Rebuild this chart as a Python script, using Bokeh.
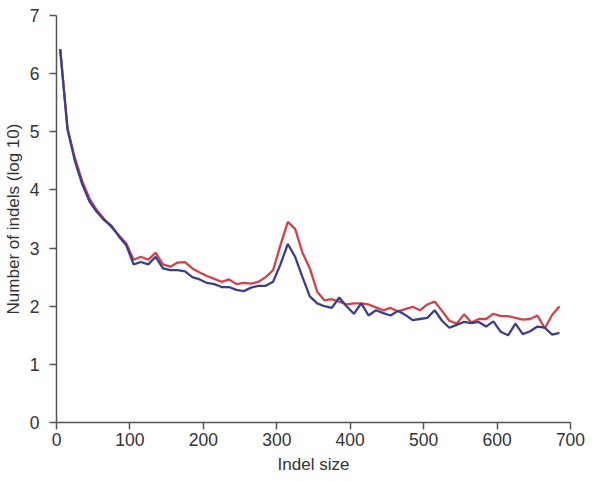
from bokeh.plotting import figure
from bokeh.models import Range1d, FixedTicker
from bokeh.embed import file_html
from bokeh.resources import INLINE

indel_size = [5, 15, 25, 35, 45, 55, 65, 75, 85, 95,
              105, 115, 125, 135, 145, 155, 165, 175, 185, 195,
              205, 215, 225, 235, 245, 255, 265, 275, 285, 295,
              305, 315, 325, 335, 345, 355, 365, 375, 385, 395,
              405, 415, 425, 435, 445, 455, 465, 475, 485, 495,
              505, 515, 525, 535, 545, 555, 565, 575, 585, 595,
              605, 615, 625, 635, 645, 655, 665, 675, 685]

red_series = [6.42, 5.06, 4.55, 4.15, 3.85, 3.65, 3.50, 3.36, 3.22, 3.08,
              2.80, 2.85, 2.80, 2.92, 2.72, 2.68, 2.75, 2.76, 2.65, 2.58,
              2.52, 2.47, 2.42, 2.46, 2.38, 2.40, 2.39, 2.42, 2.50, 2.62,
              3.05, 3.45, 3.33, 2.92, 2.65, 2.25, 2.10, 2.12, 2.08, 2.03,
              2.05, 2.05, 2.03, 1.98, 1.93, 1.97, 1.91, 1.95, 1.99, 1.93,
              2.03, 2.08, 1.92, 1.75, 1.70, 1.86, 1.72, 1.78, 1.78, 1.87,
              1.83, 1.83, 1.80, 1.77, 1.78, 1.84, 1.62, 1.85, 2.00]

blue_series = [6.42, 5.04, 4.50, 4.10, 3.80, 3.62, 3.48, 3.38, 3.20, 3.05,
               2.72, 2.76, 2.72, 2.85, 2.65, 2.62, 2.62, 2.60, 2.50, 2.46,
               2.40, 2.38, 2.33, 2.33, 2.28, 2.26, 2.32, 2.35, 2.35, 2.42,
               2.72, 3.07, 2.85, 2.50, 2.17, 2.05, 2.00, 1.97, 2.15, 2.00,
               1.87, 2.05, 1.84, 1.93, 1.88, 1.84, 1.92, 1.85, 1.76, 1.78,
               1.80, 1.93, 1.75, 1.63, 1.68, 1.73, 1.71, 1.73, 1.65, 1.74,
               1.56, 1.50, 1.70, 1.52, 1.57, 1.65, 1.63, 1.51, 1.54]

x_ticks = [0, 100, 200, 300, 400, 500, 600, 700]
y_ticks = [0, 1, 2, 3, 4, 5, 6, 7]

p = figure(width=592, height=480, output_backend="svg", toolbar_location=None,
           x_range=Range1d(0, 700), y_range=Range1d(0, 7),
           min_border_left=55, min_border_right=22, min_border_top=15,
           min_border_bottom=58)

p.line(indel_size, red_series, line_color="#d6404a", line_width=2.3)
p.line(indel_size, blue_series, line_color="#3a3f8c", line_width=2.3)

p.xgrid.visible = False
p.ygrid.visible = False
p.outline_line_color = None
p.background_fill_color = "white"
p.border_fill_color = "white"

for ax, ticks in ((p.xaxis[0], x_ticks), (p.yaxis[0], y_ticks)):
    ax.ticker = FixedTicker(ticks=ticks)
    ax.minor_tick_line_color = None
    ax.major_tick_in = 0
    ax.major_tick_out = 7
    ax.axis_line_color = "#555555"
    ax.axis_line_width = 1.5
    ax.major_tick_line_color = "#555555"
    ax.major_tick_line_width = 1.5
    ax.major_label_text_font = "Liberation Sans"
    ax.major_label_text_font_size = "17.5px"
    ax.major_label_text_color = "#333333"
    ax.axis_label_text_font = "Liberation Sans"
    ax.axis_label_text_font_size = "17px"
    ax.axis_label_text_font_style = "normal"
    ax.axis_label_text_color = "#333333"

p.xaxis.major_label_standoff = 3
p.yaxis.major_label_standoff = 10
p.xaxis.axis_label = "Indel size"
p.yaxis.axis_label = "Number of indels (log 10)"
p.xaxis.axis_label_standoff = 6
p.yaxis.axis_label_standoff = 4

open("out.html", "w").write(file_html(p, INLINE))
